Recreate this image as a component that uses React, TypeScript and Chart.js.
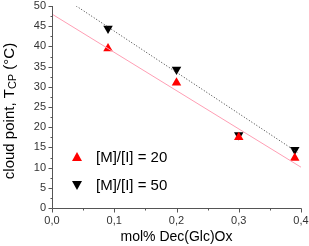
import React, { useEffect, useRef } from "react";
import { Chart, registerables } from "chart.js";

Chart.register(...registerables);

const concentrations = [0.09, 0.2, 0.3, 0.39];
const tcpRatio20 = [39.5, 31, 17.5, 12.4];
const tcpRatio50 = [44.4, 34.3, 18.1, 14.4];
const fit20X = [0, 0.4];
const fit20Y = [48, 10.1];
const fit50X = [0.039, 0.395];
const fit50Y = [50, 13.7];
const xTicks = [0, 0.1, 0.2, 0.3, 0.4];
const yTicks = [0, 5, 10, 15, 20, 25, 30, 35, 40, 45, 50];
const legendLabels = ["[M]/[I] = 20", "[M]/[I] = 50"];
const xTitle = "mol% Dec(Glc)Ox";

const FONT = "'Liberation Sans', Arial, sans-serif";
const AXIS = "#555555";

const fmt = (v: number) => v.toFixed(1).replace(".", ",");

const decorPlugin = {
  id: "decor",
  afterDraw(chart: any) {
    const { ctx, chartArea, scales } = chart;
    const xs = scales.x;
    const ys = scales.y;
    const L = chartArea.left + 0.5;
    const B = chartArea.bottom + 0.5;
    ctx.save();
    ctx.strokeStyle = AXIS;
    ctx.lineWidth = 1;
    ctx.beginPath();
    ctx.moveTo(L, chartArea.top);
    ctx.lineTo(L, B);
    ctx.lineTo(chartArea.right + 0.5, B);
    xTicks.forEach((v) => {
      const px = Math.round(xs.getPixelForValue(v)) + 0.5;
      ctx.moveTo(px, B);
      ctx.lineTo(px, B + 4);
    });
    yTicks.forEach((v) => {
      const py = Math.round(ys.getPixelForValue(v)) + 0.5;
      ctx.moveTo(L, py);
      ctx.lineTo(L - 4, py);
    });
    for (let i = 0; i < xTicks.length - 1; i++) {
      const v = (xTicks[i] + xTicks[i + 1]) / 2;
      const px = Math.round(xs.getPixelForValue(v)) + 0.5;
      ctx.moveTo(px, B);
      ctx.lineTo(px, B + 2);
    }
    for (let i = 0; i < yTicks.length - 1; i++) {
      const v = (yTicks[i] + yTicks[i + 1]) / 2;
      const py = Math.round(ys.getPixelForValue(v)) + 0.5;
      ctx.moveTo(L, py);
      ctx.lineTo(L - 2, py);
    }
    ctx.stroke();

    ctx.fillStyle = "#333";
    ctx.font = `11px ${FONT}`;
    ctx.textAlign = "center";
    ctx.textBaseline = "middle";
    xTicks.forEach((v) => {
      ctx.fillText(fmt(v), xs.getPixelForValue(v), chartArea.bottom + 13);
    });
    ctx.textAlign = "right";
    yTicks.forEach((v) => {
      ctx.fillText(String(v), chartArea.left - 6, ys.getPixelForValue(v));
    });

    ctx.fillStyle = "#000";
    ctx.font = `14px ${FONT}`;
    ctx.textAlign = "center";
    ctx.fillText(xTitle, (chartArea.left + chartArea.right) / 2, chartArea.bottom + 29);

    const lx = chartArea.left + 25;
    const rows = [chartArea.top + 151, chartArea.top + 179];
    ctx.font = `15px ${FONT}`;
    ctx.textBaseline = "middle";
    legendLabels.forEach((label, i) => {
      const y = rows[i];
      ctx.beginPath();
      if (i === 0) {
        ctx.fillStyle = "#ff0000";
        ctx.moveTo(lx, y - 5);
        ctx.lineTo(lx + 5, y + 4);
        ctx.lineTo(lx - 5, y + 4);
      } else {
        ctx.fillStyle = "#000000";
        ctx.moveTo(lx, y + 5);
        ctx.lineTo(lx + 5, y - 4);
        ctx.lineTo(lx - 5, y - 4);
      }
      ctx.closePath();
      ctx.fill();
      ctx.fillStyle = "#000";
      ctx.textAlign = "left";
      ctx.fillText(label, lx + 19, y + 1);
    });

    ctx.translate(10, (chartArea.top + chartArea.bottom) / 2 + 4);
    ctx.rotate(-Math.PI / 2);
    const mainFont = `15px ${FONT}`;
    const subFont = `11px ${FONT}`;
    const parts = [
      { t: "cloud point, T", f: mainFont, dy: 0 },
      { t: "CP", f: subFont, dy: 3 },
      { t: " (°C)", f: mainFont, dy: 0 },
    ];
    let total = 0;
    parts.forEach((p) => {
      ctx.font = p.f;
      total += ctx.measureText(p.t).width;
    });
    let cx = -total / 2;
    ctx.textAlign = "left";
    ctx.textBaseline = "middle";
    ctx.fillStyle = "#000";
    parts.forEach((p) => {
      ctx.font = p.f;
      ctx.fillText(p.t, cx, p.dy);
      cx += ctx.measureText(p.t).width;
    });
    ctx.restore();
  },
};

export default function App() {
  const ref = useRef<HTMLCanvasElement>(null);
  useEffect(() => {
    document.body.style.margin = "0";
    if (!ref.current) return;
    const chart = new Chart(ref.current, {
      type: "scatter",
      data: {
        datasets: [
          {
            label: "fit20",
            data: fit20X.map((x, i) => ({ x, y: fit20Y[i] })),
            showLine: true,
            borderColor: "#ff9eb4",
            borderWidth: 1,
            pointRadius: 0,
          },
          {
            label: "fit50",
            data: fit50X.map((x, i) => ({ x, y: fit50Y[i] })),
            showLine: true,
            borderColor: "#333333",
            borderWidth: 1,
            borderDash: [1, 2],
            pointRadius: 0,
          },
          {
            label: legendLabels[0],
            data: concentrations.map((x, i) => ({ x, y: tcpRatio20[i] })),
            pointStyle: "triangle",
            pointRadius: 5.5,
            backgroundColor: "#ff0000",
            borderColor: "#ff0000",
            borderWidth: 0,
          },
          {
            label: legendLabels[1],
            data: concentrations.map((x, i) => ({ x, y: tcpRatio50[i] })),
            pointStyle: "triangle",
            rotation: 180,
            pointRadius: 5.5,
            backgroundColor: "#000000",
            borderColor: "#000000",
            borderWidth: 0,
          },
        ],
      },
      options: {
        animation: false,
        responsive: false,
        layout: { padding: { top: 6, right: 8, left: 52, bottom: 38 } },
        plugins: { legend: { display: false }, tooltip: { enabled: false } },
        scales: {
          x: { type: "linear", min: 0, max: 0.4, display: false },
          y: { type: "linear", min: 0, max: 50, display: false },
        },
      },
      plugins: [decorPlugin],
    } as any);
    return () => chart.destroy();
  }, []);
  return <canvas ref={ref} width={309} height={246} style={{ display: "block" }} />;
}
